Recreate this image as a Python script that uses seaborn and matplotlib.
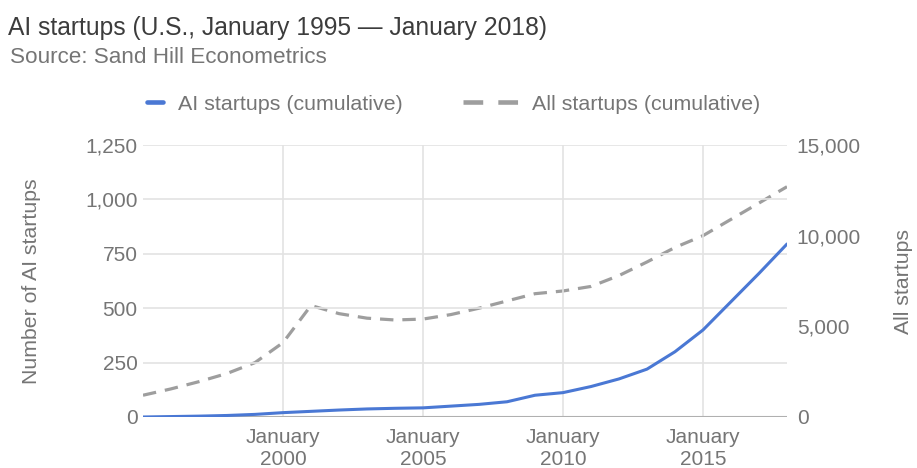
import matplotlib
matplotlib.use("Agg")
import matplotlib.pyplot as plt
from matplotlib.lines import Line2D
import seaborn as sns
import pandas as pd

years = list(range(1995, 2019))
ai_startups = [0, 2, 4, 7, 12, 20, 26, 32, 37, 40, 42, 50, 58, 70, 100, 112,
               140, 175, 220, 300, 400, 530, 660, 795]
all_startups = [1200, 1550, 1950, 2400, 3000, 4100, 6150, 5700, 5450, 5350,
                5400, 5650, 6000, 6400, 6800, 6950, 7200, 7800, 8550, 9350,
                10000, 10900, 11800, 12700]

left_ticks = [0, 250, 500, 750, 1000, 1250]
right_ticks = [0, 5000, 10000, 15000]
x_ticks = [2000, 2005, 2010, 2015]
x_tick_labels = ["January\n2000", "January\n2005", "January\n2010", "January\n2015"]

title = "AI startups (U.S., January 1995 \u2014 January 2018)"
subtitle = "Source: Sand Hill Econometrics"
ai_label = "AI startups (cumulative)"
all_label = "All startups (cumulative)"

df = pd.DataFrame({"year": years, "ai": ai_startups, "all": all_startups})

sns.set_style("white")
plt.rcParams["font.family"] = ["Liberation Sans", "DejaVu Sans"]

BLUE = "#4a78d4"
GRAY = "#9e9e9e"
TEXT = "#757575"
GRID = "#e3e3e3"

W, H = 917, 468
fig = plt.figure(figsize=(W / 100, H / 100), dpi=100)
ax = fig.add_axes([143 / W, 1 - 417 / H, (787 - 143) / W, (417 - 145) / H])
ax2 = ax.twinx()

sns.lineplot(data=df, x="year", y="all", ax=ax2, color=GRAY, linewidth=2.3,
             linestyle=(0, (4.2, 2.8)), zorder=2)
sns.lineplot(data=df, x="year", y="ai", ax=ax, color=BLUE, linewidth=2.2, zorder=3)

ax.set_zorder(ax2.get_zorder() + 1)
ax.patch.set_visible(False)

ax.set_xlim(1995, 2018)
ax.set_ylim(0, 1250)
ax2.set_ylim(0, 15000)

ax.set_yticks(left_ticks)
ax.set_yticklabels([f"{v:,}" for v in left_ticks])
ax2.set_yticks(right_ticks)
ax2.set_yticklabels([f"{v:,}" for v in right_ticks])
ax.set_xticks(x_ticks)
ax.set_xticklabels(x_tick_labels)

for a in (ax, ax2):
    for s in a.spines.values():
        s.set_visible(False)
    a.tick_params(length=0, labelsize=15, labelcolor=TEXT)

ax.tick_params(axis="y", pad=4)
ax2.tick_params(axis="y", pad=7)
ax.tick_params(axis="x", pad=8)

ax.grid(True, color=GRID, linewidth=1.2)
ax2.grid(False)
ax.axhline(0, color="#b0b0b0", linewidth=1.5, zorder=1)

ax.set_xlabel("")
ax.set_ylabel("Number of AI startups", fontsize=15.3, color=TEXT, labelpad=32)
ax2.set_ylabel("All startups", fontsize=15.3, color=TEXT, labelpad=24)

fig.text(8 / W, 1 - 35 / H, title, fontsize=17.7, color="#3c3c3c",
         va="baseline", ha="left")
fig.text(10 / W, 1 - 63 / H, subtitle, fontsize=16.2, color=TEXT,
         va="baseline", ha="left")

legend_y = 1 - 104 / H
fig.legend([Line2D([0], [0], color=BLUE, linewidth=3.3)], [ai_label],
           loc="center left", bbox_to_anchor=(147 / W, legend_y),
           frameon=False, fontsize=15.4, labelcolor=TEXT,
           handlelength=0.75, handletextpad=0.7, borderpad=0,
           borderaxespad=0)
fig.legend([Line2D([0], [0], color=GRAY, linewidth=3.3,
                   linestyle=(0, (4.3, 3.3)))], [all_label],
           loc="center left", bbox_to_anchor=(463 / W, legend_y),
           frameon=False, fontsize=15.4, labelcolor=TEXT,
           handlelength=2.57, handletextpad=0.65, borderpad=0,
           borderaxespad=0)

fig.savefig("out.png", dpi=100)
